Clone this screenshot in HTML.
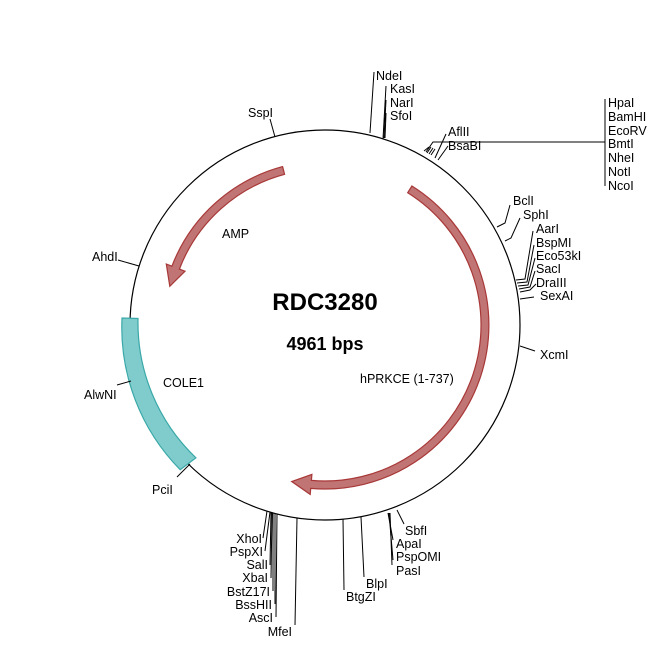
<!DOCTYPE html>
<html><head><meta charset="utf-8"><style>
html,body{margin:0;padding:0;background:#fff;}
svg{display:block;font-family:"Liberation Sans",Arial,sans-serif;}
text{font-size:12.5px;fill:#000;}
</style></head><body>
<svg width="650" height="650" viewBox="0 0 650 650" xmlns="http://www.w3.org/2000/svg">
<circle cx="325" cy="325" r="195" fill="none" stroke="#000" stroke-width="1.2"/>
<path d="M 122,318 A 203 203 0 0 0 180.2,469.7 L 195.9,457.8 A 187 187 0 0 1 138,318.5 Z" fill="#80cccc" stroke="#3aa8a8" stroke-width="1.2"/>
<path d="M 282.6,166.6 A 164 164 0 0 0 171.9,266.2 L 166.3,264.1 L 169.8,286.3 L 185.0,271.2 L 179.4,269.1 A 156 156 0 0 1 284.6,174.3 Z" fill="#c07474" stroke="#a83838" stroke-width="1.2"/>
<path d="M 411.9,186.0 A 164 164 0 0 1 310.7,488.4 L 310.2,494.4 L 291.7,481.5 L 311.9,474.4 L 311.4,480.4 A 156 156 0 0 0 407.7,192.7 Z" fill="#c07474" stroke="#a83838" stroke-width="1.2"/>

<text x="325" y="310" text-anchor="middle" style="font-size:24px;font-weight:bold">RDC3280</text>
<text x="325" y="350" text-anchor="middle" style="font-size:18px;font-weight:bold">4961 bps</text>
<text x="222" y="238">AMP</text>
<text x="163" y="387">COLE1</text>
<text x="360" y="383">hPRKCE (1-737)</text>

<g stroke="#000" stroke-width="1" fill="none">
<polyline points="370,133 374,72"/>
<polyline points="383,139 386,86"/>
<polyline points="384,138 386,100"/>
<polyline points="385,138 386,113"/>
<polyline points="270,119 275,137"/>
<polyline points="426,152 433,142 605,142"/>
<line x1="605" y1="99" x2="605" y2="186"/>
<line x1="424" y1="151" x2="429" y2="147"/>
<line x1="427" y1="153" x2="431" y2="147"/>
<line x1="429" y1="154" x2="433" y2="148"/>
<line x1="431" y1="155" x2="435" y2="149"/>
<polyline points="435,158 446,134"/>
<polyline points="438,160 448,146"/>
<polyline points="497,227 505,223 510,205"/>
<polyline points="505,241 511,238 520,218"/>
<polyline points="516,280 525,279 533,231"/>
<polyline points="517,283 527,282 534,245"/>
<polyline points="518,286 528,285 535,258"/>
<polyline points="519,289 530,287 535,271"/>
<polyline points="520,292 530,290 536,284"/>
<polyline points="520,299 534,297"/>
<polyline points="520,346 535,351"/>
<polyline points="118,260 139,266"/>
<polyline points="117,385 131,381"/>
<polyline points="177,477 190,464"/>
<line x1="267" y1="511" x2="263" y2="538"/>
<line x1="270" y1="512" x2="265" y2="551"/>
<line x1="271" y1="512" x2="270" y2="565"/>
<line x1="272" y1="513" x2="271" y2="578"/>
<line x1="273" y1="513" x2="273" y2="591"/>
<line x1="275" y1="513" x2="275" y2="604"/>
<line x1="277" y1="514" x2="276" y2="617"/>
<line x1="297" y1="518" x2="295" y2="625"/>
<line x1="343" y1="519" x2="344" y2="590"/>
<line x1="361" y1="517" x2="364" y2="577"/>
<line x1="397" y1="510" x2="404" y2="524"/>
<line x1="388" y1="513" x2="393" y2="540"/>
<line x1="389" y1="513" x2="393" y2="560"/>
<line x1="390" y1="513" x2="392" y2="565"/>
</g>

<text x="376" y="80">NdeI</text>
<text x="390" y="93">KasI</text>
<text x="390" y="107">NarI</text>
<text x="390" y="120">SfoI</text>
<text x="248" y="117">SspI</text>
<text x="448" y="136">AflII</text>
<text x="448" y="150">BsaBI</text>
<text x="608" y="107">HpaI</text>
<text x="608" y="121">BamHI</text>
<text x="608" y="135">EcoRV</text>
<text x="608" y="148">BmtI</text>
<text x="608" y="162">NheI</text>
<text x="608" y="176">NotI</text>
<text x="608" y="190">NcoI</text>
<text x="513" y="205">BclI</text>
<text x="523" y="219">SphI</text>
<text x="536" y="233">AarI</text>
<text x="536" y="247">BspMI</text>
<text x="536" y="260">Eco53kI</text>
<text x="536" y="273">SacI</text>
<text x="536" y="287">DraIII</text>
<text x="540" y="300">SexAI</text>
<text x="540" y="359">XcmI</text>
<text x="92" y="261">AhdI</text>
<text x="84" y="399">AlwNI</text>
<text x="152" y="494">PciI</text>
<text x="262" y="543" text-anchor="end">XhoI</text>
<text x="263" y="556" text-anchor="end">PspXI</text>
<text x="268" y="569" text-anchor="end">SalI</text>
<text x="268" y="582" text-anchor="end">XbaI</text>
<text x="270" y="596" text-anchor="end">BstZ17I</text>
<text x="272" y="609" text-anchor="end">BssHII</text>
<text x="273" y="622" text-anchor="end">AscI</text>
<text x="292" y="636" text-anchor="end">MfeI</text>
<text x="346" y="601">BtgZI</text>
<text x="366" y="588">BlpI</text>
<text x="405" y="535">SbfI</text>
<text x="396" y="548">ApaI</text>
<text x="396" y="561">PspOMI</text>
<text x="396" y="575">PasI</text>
</svg>
</body></html>
